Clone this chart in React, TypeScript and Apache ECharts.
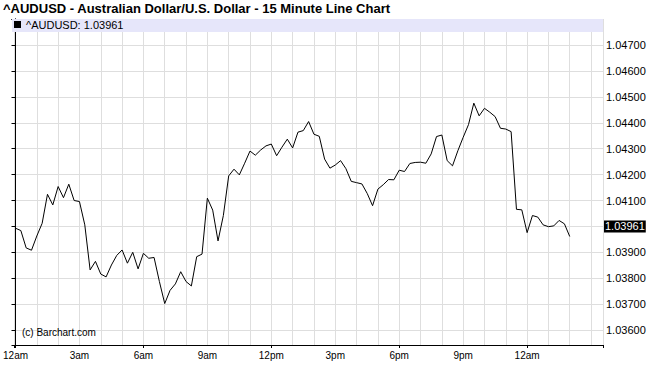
import React, { useEffect, useRef } from 'react';
import * as echarts from 'echarts';

const TITLE = '^AUDUSD - Australian Dollar/U.S. Dollar - 15 Minute Line Chart';
const SYMBOL = '^AUDUSD';
const LAST = 1.03961;
const START_HOUR = 0; // 12am
const STEP_MIN = 15;

const closes = [
  1.03993, 1.03984, 1.03917, 1.03908, 1.03963, 1.04012, 1.04124, 1.04083, 1.04154, 1.04111,
  1.04163, 1.041, 1.04096, 1.04006, 1.03832, 1.03865, 1.03816, 1.03805, 1.03851, 1.03888,
  1.03909, 1.03858, 1.039, 1.03836, 1.03896, 1.03877, 1.0388, 1.03787, 1.03702, 1.03753,
  1.03778, 1.03825, 1.03787, 1.0377, 1.03883, 1.03893, 1.04109, 1.04063, 1.03944, 1.04042,
  1.04195, 1.04221, 1.04199, 1.04244, 1.04291, 1.04275, 1.04295, 1.04311, 1.04318, 1.04273,
  1.04306, 1.04337, 1.04303, 1.04364, 1.0437, 1.04405, 1.04356, 1.04348, 1.0426, 1.04225,
  1.04237, 1.04254, 1.04223, 1.04174, 1.04169, 1.04164, 1.04127, 1.0408, 1.04144, 1.04161,
  1.04181, 1.0418, 1.04217, 1.04212, 1.04243, 1.04247, 1.04248, 1.04244, 1.0428, 1.04347,
  1.04353, 1.04254, 1.04234, 1.04292, 1.04344, 1.04393, 1.04476, 1.04427, 1.04456, 1.04441,
  1.04424, 1.04379, 1.04376, 1.04366, 1.04066, 1.04064, 1.03976, 1.04042, 1.04036, 1.04006,
  1.03999, 1.04002, 1.04023, 1.0401, 1.03961,
];

const xTickLabels = ['12am', '3am', '6am', '9am', '12pm', '3pm', '6pm', '9pm', '12am'];

const X_MIN = -0.07;
const X_MAX = 27.56;
const Y_MIN = 1.03542;
const Y_MAX = 1.04801;
const FONT = '"Liberation Sans", Arial, sans-serif';

export default function App() {
  const ref = useRef<HTMLDivElement>(null);
  useEffect(() => {
    const chart = echarts.init(ref.current!, null, { renderer: 'svg' });
    const data = closes.map((v, i) => [START_HOUR + (i * STEP_MIN) / 60, v]);
    chart.setOption({
      animation: false,
      backgroundColor: '#fff',
      textStyle: { fontFamily: FONT },
      title: {
        text: TITLE,
        left: 3,
        top: 2,
        padding: 0,
        textStyle: { fontSize: 13, fontWeight: 'bold', color: '#000', fontFamily: FONT },
      },
      grid: { left: 11, right: 47, top: 19, bottom: 41, containLabel: false },
      legend: {
        left: 14,
        top: 19,
        padding: 0,
        icon: 'rect',
        itemWidth: 7,
        itemHeight: 7,
        selectedMode: false,
        data: [SYMBOL],
        formatter: () => `${SYMBOL}: ${LAST.toFixed(5)}`,
        textStyle: { fontSize: 11, color: '#000', fontFamily: FONT },
      },
      graphic: [
        {
          type: 'rect',
          z: 1,
          shape: { x: 12, y: 19, width: 591, height: 13 },
          style: { fill: '#e6e6fa' },
        },
        {
          type: 'text',
          z: 5,
          x: 22,
          y: 332,
          style: {
            text: '(c) Barchart.com',
            fontSize: 10,
            fontFamily: FONT,
            fill: '#000',
            verticalAlign: 'middle',
          },
        },
      ],
      xAxis: [
        {
          type: 'value',
          min: X_MIN,
          max: X_MAX,
          minInterval: 1,
          maxInterval: 1,
          position: 'bottom',
          axisLine: { show: true, lineStyle: { color: '#000', width: 1 } },
          axisTick: { show: false },
          splitLine: { show: true, lineStyle: { color: '#dedede', width: 1 } },
          axisLabel: {
            fontSize: 10,
            color: '#000',
            margin: 5,
            formatter: (v: number) => {
              const h = Math.round(v);
              if (Math.abs(v - h) > 1e-6 || h < 0 || h > 24 || h % 3 !== 0) return '';
              return xTickLabels[h / 3];
            },
          },
        },
        {
          type: 'value',
          min: X_MIN,
          max: X_MAX,
          minInterval: 6,
          maxInterval: 6,
          position: 'bottom',
          axisLine: { show: false },
          axisTick: { show: true, length: 3, lineStyle: { color: '#000' } },
          axisLabel: { show: false },
          splitLine: { show: false },
        },
      ],
      yAxis: [
        {
          type: 'value',
          position: 'right',
          min: Y_MIN,
          max: Y_MAX,
          minInterval: 0.001,
          maxInterval: 0.001,
          axisLine: { show: true, lineStyle: { color: '#000', width: 1 } },
          axisTick: { show: true, inside: true, length: 4, lineStyle: { color: '#000' } },
          splitLine: { show: true, lineStyle: { color: '#dedede', width: 1 } },
          axisLabel: {
            fontSize: 11,
            color: '#000',
            margin: 3,
            formatter: (v: number) => {
              const k = Math.round(v * 1000);
              if (Math.abs(v * 1000 - k) > 1e-6) return '';
              if (k === 1048 || k === 1040) return '';
              return v.toFixed(5);
            },
          },
        },
        {
          type: 'value',
          position: 'left',
          min: Y_MIN,
          max: Y_MAX,
          axisLine: { show: true, lineStyle: { color: '#000', width: 1 } },
          axisTick: { show: false },
          axisLabel: { show: false },
          splitLine: { show: false },
        },
      ],
      series: [
        {
          name: SYMBOL,
          type: 'line',
          xAxisIndex: 0,
          yAxisIndex: 0,
          data,
          showSymbol: false,
          symbol: 'none',
          lineStyle: { color: '#000', width: 1 },
          itemStyle: { color: '#000' },
          markLine: {
            silent: true,
            symbol: 'none',
            lineStyle: { color: 'rgba(0,0,0,0)', width: 0, type: 'solid' },
            label: {
              show: true,
              position: 'end',
              distance: 1,
              formatter: LAST.toFixed(5),
              color: '#fff',
              backgroundColor: '#000',
              fontSize: 11,
              padding: [1, 1, 0, 1],
              fontFamily: FONT,
            },
            emphasis: { disabled: true },
            data: [{ yAxis: LAST }],
          },
        },
      ],
    });
    return () => chart.dispose();
  }, []);
  return (
    <div
      ref={ref}
      style={{ position: 'fixed', left: 0, top: 0, width: 650, height: 386 }}
    />
  );
}
